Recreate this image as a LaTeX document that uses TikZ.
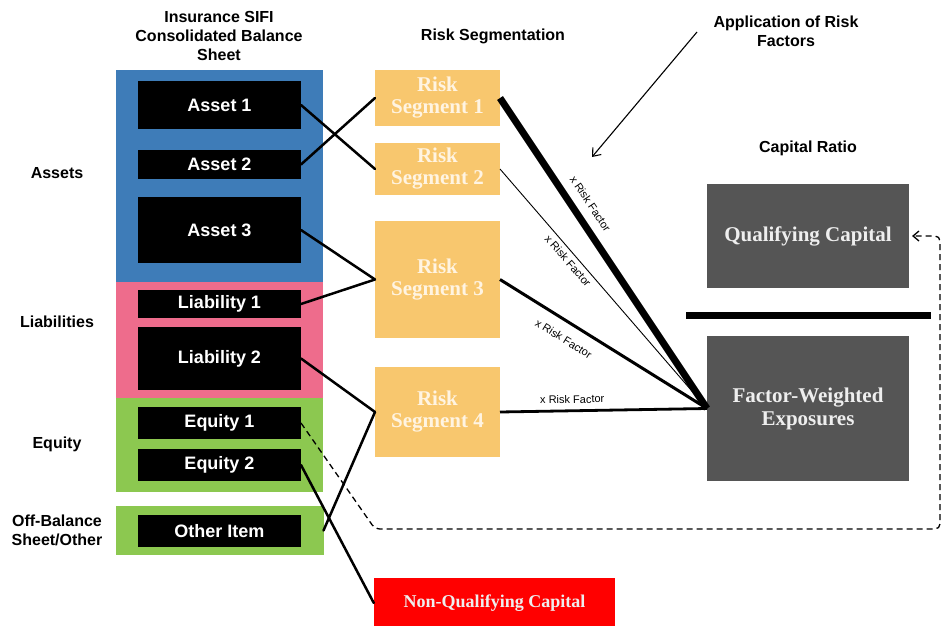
\documentclass[tikz,border=0pt]{standalone}
\usepackage{fontspec}
\setmainfont{Liberation Sans}
\newfontfamily\serifface{Liberation Serif}
\usetikzlibrary{arrows.meta}

\definecolor{sheetblue}{RGB}{62,124,184}
\definecolor{sheetpink}{RGB}{238,108,140}
\definecolor{sheetgreen}{RGB}{140,200,80}
\definecolor{segorange}{RGB}{248,199,110}
\definecolor{segtext}{RGB}{255,244,226}
\definecolor{capgray}{RGB}{85,85,85}
\definecolor{captext}{RGB}{238,238,238}
\definecolor{nqred}{RGB}{255,0,0}

\begin{document}
\begin{tikzpicture}[x=1pt,y=-1pt,
  heading/.style={font=\fontsize{16}{19}\selectfont\bfseries, align=center, inner sep=0},
  panel/.style={inner sep=0, outer sep=0, minimum width=207, minimum height=#1},
  item/.style={fill=black, text=white, font=\fontsize{18}{21}\selectfont\bfseries,
    inner sep=0, outer sep=0, minimum width=163, minimum height=#1},
  segbox/.style={fill=segorange, text=segtext, font=\serifface\fontsize{21}{22}\selectfont\bfseries,
    align=center, inner sep=0, outer sep=0, minimum width=125, minimum height=#1},
  capbox/.style={fill=capgray, text=captext, font=\serifface\fontsize{21}{23}\selectfont\bfseries,
    align=center, inner sep=0, outer sep=0, minimum width=202, minimum height=#1},
  link/.style={line width=2.5pt, line cap=round},
  factorlabel/.style={font=\fontsize{11}{13}\selectfont, sloped, inner sep=0, pos=#1},
]
\useasboundingbox (0,0) rectangle (946,626);

% column headings
\node[heading] (hsheet) at (219,36) {Insurance SIFI\\Consolidated Balance\\Sheet};
\node[heading] (hseg) at (493,36) {Risk Segmentation};
\node[heading] (happ) at (786,31) {Application of Risk\\Factors};
\node[heading] (hratio) at (808,148) {Capital Ratio};

% row headings
\node[heading] (rassets) at (57,173) {Assets};
\node[heading] (rliab) at (57,322) {Liabilities};
\node[heading] (requity) at (57,444) {Equity};
\node[heading] (roff) at (57,530) {Off-Balance\\Sheet/Other};

% balance sheet panels
\node[panel=212, fill=sheetblue] (passets) at (219.5,176) {};
\node[panel=116, fill=sheetpink] (pliab) at (219.5,340) {};
\node[panel=94, fill=sheetgreen] (pequity) at (219.5,445) {};
\node[panel=49, fill=sheetgreen, minimum width=208] (pother) at (219.5,530.5) {};

% balance sheet items
\node[item=48] (a1) at (219.5,105) {Asset 1};
\node[item=29] (a2) at (219.5,164.5) {Asset 2};
\node[item=66] (a3) at (219.5,230) {Asset 3};
\node[item=28] (l1) at (219.5,304) {Liability 1};
\node[item=63] (l2) at (219.5,358.5) {Liability 2};
\node[item=32] (e1) at (219.5,423) {Equity 1};
\node[item=32] (e2) at (219.5,465) {Equity 2};
\node[item=32] (oi) at (219.5,531) {Other Item};

% risk segments
\node[segbox=56] (s1) at (437.5,98) {Risk\\Segment 1};
\node[segbox=52] (s2) at (437.5,169) {Risk\\Segment 2};
\node[segbox=117] (s3) at (437.5,279.5) {Risk\\Segment 3};
\node[segbox=90] (s4) at (437.5,412) {Risk\\Segment 4};

% capital ratio
\node[capbox=104] (qc) at (808,236) {Qualifying Capital};
\node[fill=black, inner sep=0, minimum width=245, minimum height=7] (bar) at (808.5,315.5) {};
\node[capbox=145] (fwe) at (808,408.5) {Factor-Weighted\\Exposures};

% non-qualifying capital
\node[fill=nqred, text=captext, font=\serifface\fontsize{18}{21}\selectfont\bfseries,
  inner sep=0, minimum width=241, minimum height=50] (nqc) at (494.5,603) {Non-Qualifying Capital};

% mapping of items to segments
\draw[link] (a1.east) -- (s2.west);
\draw[link] (a2.east) -- (s1.west);
\draw[link] (a3.east) -- (s3.west);
\draw[link] (l1.east) -- (s3.west);
\draw[link] (l2.east) -- (s4.west);
\draw[link] (pother.east) -- (s4.west);
\draw[link] (e2.east) -- (nqc.west);

% segments weighted into exposures
\draw[line width=7pt] (s1.east) -- (fwe.west)
  node[factorlabel=0.37, above=9pt] {x Risk Factor};
\draw[line width=0.9pt] (s2.east) -- (fwe.west)
  node[factorlabel=0.36, below=4pt] {x Risk Factor};
\draw[line width=3pt] (s3.east) -- (fwe.west)
  node[factorlabel=0.35, below=11pt] {x Risk Factor};
\draw[line width=2.8pt] (s4.east) -- (fwe.west)
  node[factorlabel=0.35, above=6pt] {x Risk Factor};

% equity counted as qualifying capital
\coordinate (dcorner) at (375,529);
\coordinate (dright) at (940,529);
\coordinate (dtop) at (940,236);
\draw[line width=1.3pt, dash pattern=on 6pt off 4pt, rounded corners=5pt,
  -{Straight Barb[length=6pt,width=10pt,line width=1.3pt]}, shorten >=3pt]
  (e1.east) -- (dcorner) -- (dright) -- (dtop) -- (qc.east);

% pointer to the risk factors
\coordinate (appfrom) at (697,32);
\coordinate (appto) at (592,157);
\draw[line width=1.1pt, -{Straight Barb[length=7pt,width=11pt,line width=1.1pt]}]
  (appfrom) -- (appto);
\end{tikzpicture}
\end{document}
